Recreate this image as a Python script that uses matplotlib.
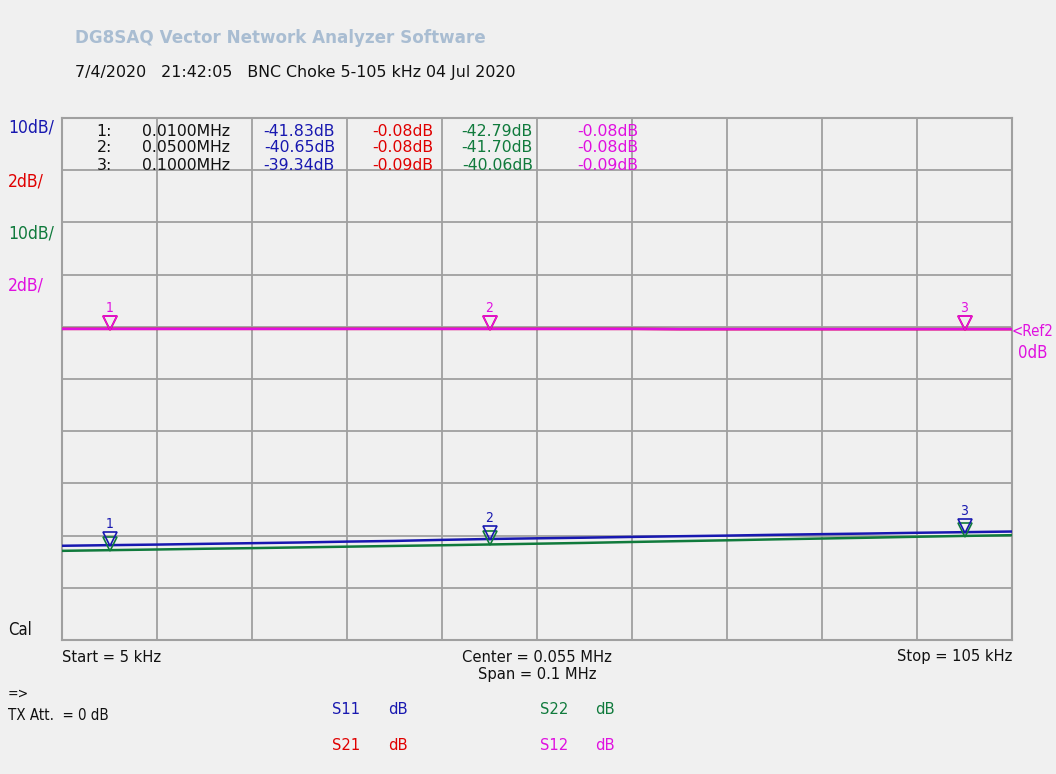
import matplotlib
matplotlib.use("Agg")
import matplotlib.pyplot as plt
import matplotlib.transforms as mtransforms

freq = [0.005, 0.010, 0.015, 0.020, 0.025, 0.030, 0.035, 0.040, 0.045, 0.050, 0.055,
        0.060, 0.065, 0.070, 0.075, 0.080, 0.085, 0.090, 0.095, 0.100, 0.105]
s11 = [-41.95, -41.83, -41.72, -41.58, -41.45, -41.32, -41.15, -41.02, -40.82, -40.65, -40.52,
       -40.40, -40.25, -40.12, -40.00, -39.85, -39.72, -39.60, -39.46, -39.34, -39.22]
s22 = [-42.92, -42.79, -42.66, -42.52, -42.40, -42.26, -42.12, -41.98, -41.85, -41.70, -41.55,
       -41.40, -41.22, -41.06, -40.90, -40.72, -40.56, -40.40, -40.22, -40.06, -39.92]
s21 = [-0.08, -0.08, -0.08, -0.08, -0.08, -0.08, -0.08, -0.08, -0.08, -0.08, -0.08,
       -0.08, -0.08, -0.09, -0.09, -0.09, -0.09, -0.09, -0.09, -0.09, -0.09]
s12 = [-0.08, -0.08, -0.08, -0.08, -0.08, -0.08, -0.08, -0.08, -0.08, -0.08, -0.08,
       -0.08, -0.08, -0.09, -0.09, -0.09, -0.09, -0.09, -0.09, -0.09, -0.09]

# markers
mk_freq = [0.01, 0.05, 0.1]
mk_s11 = [-41.83, -40.65, -39.34]
mk_s21 = [-0.08, -0.08, -0.09]
mk_s22 = [-42.79, -41.70, -40.06]
mk_s12 = [-0.08, -0.08, -0.09]

scale = {"s11": 10, "s21": 2, "s22": 10, "s12": 2}   # dB per division
ref_div = 6   # reference line, divisions above bottom
start, stop = 0.005, 0.105

BLUE = "#1818b0"
RED = "#e00000"
GREEN = "#107a3c"
MAG = "#e010e0"
BG = "#f0f0f0"
GRID = "#a0a0a0"
INK = "#111111"

W, H = 1056, 774
narrow = ["Liberation Sans Narrow", "DejaVu Sans"]

fig = plt.figure(figsize=(W / 100, H / 100), dpi=100, facecolor=BG)
ax = fig.add_axes([62 / W, 1 - 640 / H, 950 / W, 522 / H], facecolor=BG)


def px(x, y, s, **kw):
    kw.setdefault("family", narrow)
    kw.setdefault("fontstretch", "condensed")
    kw.setdefault("fontsize", 11.8)
    kw.setdefault("va", "center")
    fig.text(x / W, 1 - y / H, s, **kw)


def to_div(vals, key):
    return [ref_div + v / scale[key] for v in vals]


ax.set_xlim(start, stop)
ax.set_ylim(0, 10)
for i in range(1, 10):
    ax.axvline(start + i * (stop - start) / 10, color=GRID, lw=1.3, zorder=1)
    ax.axhline(i, color=GRID, lw=1.3, zorder=1)
for sp in ax.spines.values():
    sp.set_color(GRID)
    sp.set_linewidth(1.5)
ax.set_xticks([])
ax.set_yticks([])

traces = [("s22", s22, GREEN, mk_s22), ("s11", s11, BLUE, mk_s11),
          ("s21", s21, RED, mk_s21), ("s12", s12, MAG, mk_s12)]
for key, vals, col, mk in traces:
    ax.plot(freq, to_div(vals, key), color=col, lw=1.8, zorder=3)

# marker triangles, tip on the trace
tri_off = mtransforms.offset_copy(ax.transData, fig=fig, x=0, y=6, units="dots")
num_off = mtransforms.offset_copy(ax.transData, fig=fig, x=0, y=21, units="dots")
for key, vals, col, mk in traces:
    d = to_div(mk, key)
    for j, f in enumerate(mk_freq):
        ax.plot([f], [d[j]], marker="v", ms=10, mfc="none", mec=col, mew=1.2,
                transform=tri_off, zorder=4, clip_on=False)

# marker numbers: one per pair of overlapping traces (S11 on top of S22, S12 on top of S21)
for key, mk, col in [("s11", mk_s11, BLUE), ("s12", mk_s12, MAG)]:
    d = to_div(mk, key)
    for j, f in enumerate(mk_freq):
        ax.text(f, d[j], str(j + 1), color=col, fontsize=10, family=narrow,
                fontstretch="condensed", ha="center", va="center",
                transform=num_off, zorder=4)

# header
px(75, 38, "DG8SAQ Vector Network Analyzer Software", family="DejaVu Sans",
   fontstretch="normal", fontweight="bold", fontsize=12.1, color="#a9bdd2")
px(75, 73, "7/4/2020   21:42:05   BNC Choke 5-105 kHz 04 Jul 2020",
   family="DejaVu Sans", fontstretch="normal", fontsize=11.45, color=INK)

# scale labels on the left
px(8, 128, "10dB/", color=BLUE, fontsize=12.5)
px(8, 181, "2dB/", color=RED, fontsize=12.5)
px(8, 233, "10dB/", color=GREEN, fontsize=12.5)
px(8, 285, "2dB/", color=MAG, fontsize=12.5)

# marker table
tab = dict(fontstretch="normal", fontsize=11.3)
for j, f in enumerate(mk_freq):
    y = 131 + j * 17
    px(112, y, "%d:" % (j + 1), ha="right", color=INK, **tab)
    px(230, y, "%.4fMHz" % f, ha="right", color=INK, **tab)
    px(335, y, "%.2fdB" % mk_s11[j], ha="right", color=BLUE, **tab)
    px(433, y, "%.2fdB" % mk_s21[j], ha="right", color=RED, **tab)
    px(533, y, "%.2fdB" % mk_s22[j], ha="right", color=GREEN, **tab)
    px(638, y, "%.2fdB" % mk_s12[j], ha="right", color=MAG, **tab)

# reference label at right edge
px(1012, 331, "<Ref2", color=MAG, fontsize=10.8)
px(1018, 353, "0dB", color=MAG, fontsize=12)

# bottom text
px(8, 630, "Cal", color=INK, fontsize=12)
px(62, 657, "Start = 5 kHz", color=INK)
px(537, 657, "Center = 0.055 MHz", ha="center", color=INK)
px(537, 675, "Span = 0.1 MHz", ha="center", color=INK)
px(1012, 657, "Stop = 105 kHz", ha="right", color=INK)
px(8, 694, "=>", color=INK, fontsize=10)
px(8, 715, "TX Att.  = 0 dB", color=INK, fontsize=10.8)

px(332, 710, "S11", color=BLUE)
px(388, 710, "dB", color=BLUE)
px(540, 710, "S22", color=GREEN)
px(595, 710, "dB", color=GREEN)
px(332, 746, "S21", color=RED)
px(388, 746, "dB", color=RED)
px(540, 746, "S12", color=MAG)
px(595, 746, "dB", color=MAG)

fig.savefig("out.png", dpi=100, facecolor=BG)
